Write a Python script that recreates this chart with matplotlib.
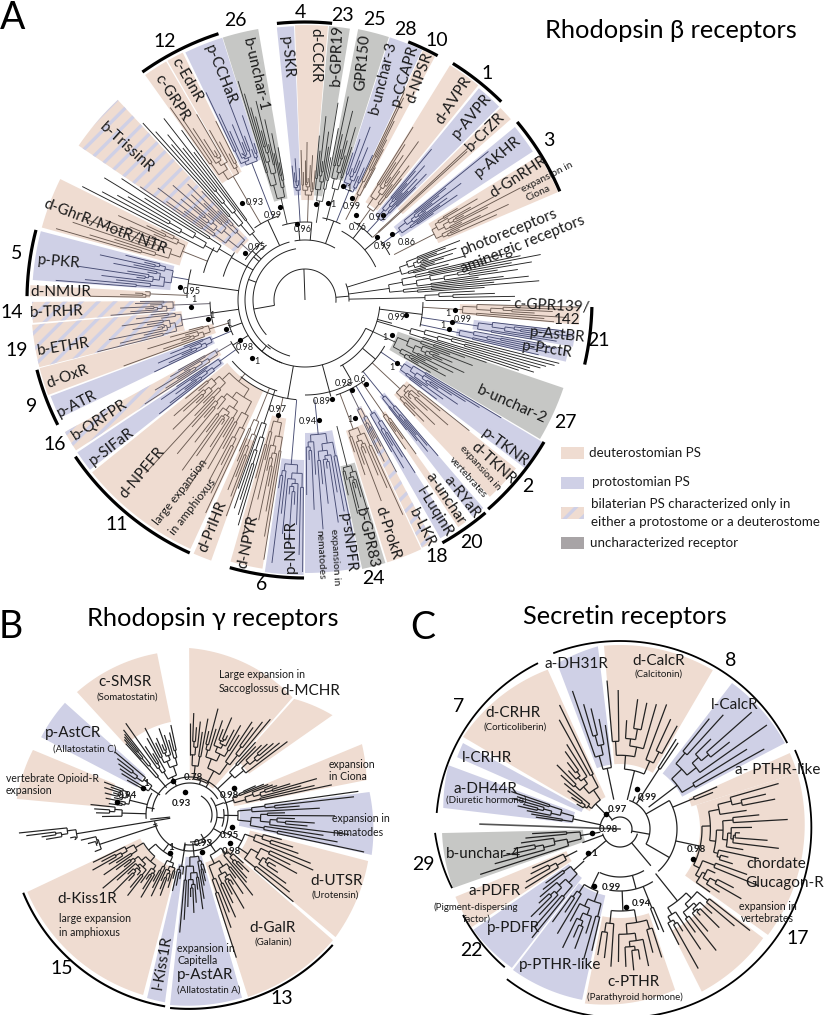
"""Three circular receptor trees with coloured clade sectors (panels A, B, C)."""

import numpy as np
import matplotlib
matplotlib.use("Agg")
import matplotlib.pyplot as plt
from matplotlib.collections import LineCollection
from matplotlib.patches import Polygon

plt.rcParams["font.family"] = ["Lato", "Open Sans", "DejaVu Sans"]
plt.rcParams["hatch.linewidth"] = 2.4

COLORS = {"d": "#efdcd1", "p": "#cfd0e6", "u": "#c6c7c5", "b": "#efdcd1"}
TREE_COLORS = {"d": "#6b5b52", "p": "#464b72", "u": "#343635", "b": "#5f5a66", "k": "#222222"}

# Panel A: sector name, start and end angle, kind, outer and inner radius
A_SECTORS = [
    ("p-SKR", 95.9, 92.3, "p", 274, 105), ("d-CCKR", 92.1, 85.2, "d", 275, 100),
    ("b-GPR19", 85.0, 80.6, "u", 275, 105), ("GPR150", 78.9, 72.3, "u", 276, 125),
    ("p-CCAPR", 72.1, 64.9, "p", 276, 120), ("d-NPSR", 64.7, 61.9, "d", 276, 110),
    ("d-AVPR", 58.3, 51.1, "d", 276, 115), ("p-AVPR", 50.6, 44.9, "p", 274, 110),
    ("b-CrZR", 44.5, 41.3, "d", 274, 130), ("p-AKHR", 39.5, 33.1, "p", 272, 115),
    ("d-GnRHR", 31.7, 23.1, "d", 275, 145), ("c-GPR139", -1.5, -5.2, "d", 275, 155),
    ("p-AstBR", -6.7, -9.9, "p", 272, 170), ("p-PrctR", -10.6, -13.3, "p", 268, 155),
    ("b-unchar-2", -18.8, -30.6, "u", 273, 98), ("p-TKNR", -30.9, -37.4, "p", 278, 118),
    ("d-TKNR", -38.6, -46.8, "d", 270, 130), ("a-RYaR", -49.4, -52.3, "p", 274, 122),
    ("a-unchar", -54.2, -56.0, "d", 274, 137), ("l-LuqinR", -57.4, -60.4, "p", 274, 130),
    ("b-LKR", -62.1, -64.7, "b", 274, 120), ("d-ProkR", -65.0, -72.6, "d", 275, 137),
    ("b-GPR83", -73.0, -78.0, "u", 275, 170), ("p-sNPFR", -78.2, -90.0, "p", 273, 133),
    ("p-NPFR", -90.3, -98.4, "p", 275, 160), ("d-NPYR", -99.0, -105.9, "d", 272, 120),
    ("d-PrlHR", -109.8, -113.7, "d", 277, 150), ("d-NPFFR", -114.7, -141.0, "d", 274, 100),
    ("p-SIFaR", -141.7, -146.2, "p", 274, 103), ("b-QRFPR", -146.7, -151.2, "b", 274, 100),
    ("p-ATR", -154.3, -159.3, "p", 272, 100), ("d-OxR", -159.7, -165.6, "d", 274, 95),
    ("b-ETHR", -165.8, -174.8, "b", 274, 124), ("b-TRHR", -175.2, -179.6, "b", 273, 130),
    ("d-NMUR", 179.2, 176.9, "d", 275, 155), ("p-PKR", 175.8, 165.4, "p", 273, 135),
    ("d-GhrR", 164.6, 153.7, "d", 273, 130), ("b-TrissinR", 145.7, 133.1, "b", 274, 82),
    ("c-GRPR", 125.4, 120.2, "d", 276, 143), ("c-EdnR", 119.9, 116.3, "d", 276, 143),
    ("p-CCHaR", 115.8, 107.5, "p", 275, 147), ("b-unchar-1", 107.4, 99.8, "u", 275, 103),
]

# Panel A tree: start, end, base radius, stem radius, kind, tip radii
A_CLADES = [
    (95.5, 92.5, 110, 78, "p", [135, 128, 142, 120, 132]),
    (91.5, 85.5, 105, 78, "d", [150, 128, 140, 158, 122, 135, 145, 118, 130]),
    (85, 79, 100, 78, "u", [165, 150, 185, 140, 170, 155, 200, 145, 175]),
    (78, 73, 115, 82, "u", [208, 170, 155, 195, 165, 150, 180, 160]),
    (72, 65, 118, 84, "p", [155, 170, 140, 185, 150, 165, 135, 145, 160]),
    (64.5, 62, 118, 90, "d", [230, 225, 200, 180, 170, 150]),
    (58, 51.5, 112, 92, "d", [204, 185, 165, 175, 150, 195, 160, 145, 170, 155]),
    (50, 45.5, 110, 92, "p", [197, 170, 155, 180, 145, 165, 150, 175, 158]),
    (43, 42.5, 100, 92, "d", [223, 220]),
    (39, 34, 118, 96, "p", [236, 180, 170, 160, 195, 150, 175, 165, 185, 155]),
    (31, 24, 145, 100, "d", [178, 200, 165, 190, 215, 180, 243, 205, 175, 195, 225, 170, 210]),
    (21, 14, 100, 44, "k", [166, 150, 140, 160, 130, 155, 145, 135, 165, 125, 148]),
    (13, 4, 85, 44, "k", [205, 185, 220, 240, 210, 230, 195, 215, 175, 200, 225, 190, 235, 180]),
    (3, 0, 120, 44, "k", [170, 190, 210, 205]),
    (-1.5, -5, 158, 118, "d", [275, 255, 248, 230, 262, 240, 250]),
    (-6.8, -9.8, 175, 118, "p", [260, 245, 268, 235, 250, 255, 240]),
    (-10.5, -13.2, 158, 118, "p", [245, 255, 235, 250, 228, 240]),
    (-14, -18.2, 110, 75, "k", [262, 258, 250, 245, 235, 240, 225]),
    (-19, -30, 100, 75, "u", [192, 170, 155, 180, 145, 160, 150, 175, 140, 165, 135, 150, 160, 130, 145]),
    (-31, -37, 118, 92, "p", [229, 205, 190, 175, 160, 185, 150, 170, 145, 165]),
    (-38.5, -46.5, 130, 92, "d", [210, 175, 150, 190, 165, 145, 180, 155, 170, 160]),
    (-49.5, -52, 125, 92, "p", [205, 190, 175, 195, 180, 165]),
    (-54.2, -56, 140, 100, "d", [190, 170, 160, 180]),
    (-57.5, -60.3, 132, 100, "p", [205, 185, 170, 195, 175]),
    (-62, -64.5, 122, 100, "b", [195, 165, 155, 180, 170]),
    (-65.5, -72, 138, 100, "d", [236, 205, 190, 165, 215, 175, 185, 160]),
    (-73.5, -77.5, 172, 130, "u", [230, 205, 195, 215, 220, 185, 200]),
    (-78.5, -89.5, 135, 100, "p", [240, 215, 195, 225, 170, 205, 185, 230, 175, 210, 160, 195]),
    (-90.5, -98, 165, 100, "p", [272, 255, 225, 205, 245, 195, 235, 215, 265, 190]),
    (-99, -105.5, 125, 100, "d", [263, 240, 215, 190, 225, 175, 205, 165, 245, 185]),
    (-106.5, -109.5, 130, 95, "k", [235, 225, 210, 220, 200]),
    (-110, -113.5, 130, 95, "d", [230, 210, 190, 205, 175, 165]),
    (-115, -140.5, 105, 95, "d", [235, 215, 185, 205, 170, 195, 160, 225, 175, 150, 190, 210, 165, 180,
                                  140, 200, 155, 170, 235, 160, 145, 185, 150, 165, 175, 140, 155]),
    (-142, -146, 105, 85, "p", [185, 170, 150, 160, 140, 175, 155]),
    (-147, -151, 103, 85, "b", [191, 165, 150, 175, 140, 155, 145]),
    (-154.5, -159, 102, 80, "p", [167, 150, 135, 160, 125, 145, 130]),
    (-160, -165.5, 100, 80, "d", [193, 150, 130, 165, 125, 140, 120]),
    (-166, -174.5, 125, 95, "b", [214, 190, 165, 200, 150, 175, 160, 185, 145, 170, 155]),
    (-175.5, -179.5, 132, 95, "b", [195, 175, 160, 185, 155, 170, 165]),
    (179, 177, 155, 118, "d", [215, 185, 170, 160]),
    (175.5, 166, 135, 118, "p", [250, 221, 190, 205, 170, 230, 180, 160, 195, 175, 210, 165, 185]),
    (164, 154, 132, 105, "d", [259, 225, 200, 245, 180, 235, 170, 215, 190, 165, 205, 175, 160]),
    (153, 146.5, 100, 85, "k", [250, 230, 215, 205, 235, 190, 220]),
    (145.5, 133.5, 85, 72, "b", [200, 170, 150, 185, 135, 160, 145, 175, 130, 155, 140, 165, 125, 150]),
    (132.5, 126, 85, 72, "k", [240, 225, 205, 215, 195, 230, 185, 210]),
    (125, 116.5, 143, 88, "d", [235, 220, 205, 190, 175, 215, 195, 180, 165, 200]),
    (115.5, 108, 147, 88, "p", [230, 205, 185, 160, 190, 170, 215, 175, 160, 195, 165]),
    (107, 100, 105, 78, "u", [229, 215, 200, 190, 175, 205, 160, 185, 150, 170, 140, 155]),
]

# Panel A inner tree: arcs as radius, start, end
A_ARCS = [
    (31, -5, 190), (52, 100, 222), (60, 105, 235), (67, 125, 250), (67, -145, -25),
    (58, -130, -105), (60, 60, 100), (78, 25, 62), (44, -2, 22), (75, -62, -5),
    (95, -90, -60), (100, -130, -95), (118, -13, -1), (92, -52, -30), (100, -72, -54),
    (78, 85, 107), (88, 108, 125), (72, 126, 146), (85, 146, 164), (105, 150, 165),
    (118, 165, 179), (95, -179, -165), (80, -165, -154), (85, -151, -141), (95, -140, -107),
    (84, 65, 78), (92, 43, 58), (96, 28, 38),
]
A_SPOKES = [
    (92, 0, 31), (190, 31, 52), (160, 52, 60), (140, 60, 67), (-130, 60, 67), (-25, 67, 75),
    (5, 31, 44), (85, 60, 78), (40, 78, 96), (52, 78, 92), (70, 60, 84), (-100, 67, 100),
    (-75, 67, 100), (-60, 75, 92), (-40, 75, 92), (-7, 75, 118), (-15, 75, 90), (150, 60, 85),
    (172, 67, 118), (-172, 67, 95), (-160, 67, 80), (-148, 67, 85), (115, 60, 88), (137, 60, 72),
    (95, 60, 78),
]
A_ARC_BARS = [
    (125.5, 108, 280), (95.8, 84.4, 278), (68.2, 61.5, 278), (58, 45.3, 279), (40, 23.1, 277),
    (-1.4, -13, 287), (-30.7, -48.8, 278), (-49.7, -60.5, 279), (-105.7, -90.2, 278),
    (-145.7, -114.5, 278), (-165.4, -153.2, 277), (179.2, 165.4, 278),
]
A_NUMBERS = [
    ("26", 235, 20), ("12", 165, 41), ("4", 300, 12), ("23", 342, 15), ("25", 374, 19), ("28", 405, 29),
    ("10", 437, 40), ("1", 487, 73), ("3", 549, 140), ("21", 598, 340), ("27", 565, 423), ("2", 528, 487),
    ("20", 471, 542), ("18", 437, 557), ("24", 373, 579), ("6", 262, 585), ("11", 117, 525),
    ("16", 55, 445), ("9", 32, 407), ("19", 17, 351), ("14", 12, 312), ("5", 17, 253),
]
A_LABELS = [
    ("b-TrissinR", 127, 148, -42), ("d-GhrR/MotR/NTR", 105, 227, -21), ("p-PKR", 59, 262, -5),
    ("d-NMUR", 61, 292, 0), ("b-TRHR", 57, 312, 2), ("b-ETHR", 63, 347, 9), ("d-OxR", 68, 377, 20),
    ("p-ATR", 77, 404, 27), ("b-QRFPR", 100, 420, 33), ("p-SIFaR", 112, 447, 37), ("d-NPFFR", 142, 473, 50),
    ("d-PrlHR", 213, 527, 68), ("d-NPYR", 248, 542, 78), ("p-NPFR", 291, 546, 90), ("p-sNPFR", 347, 543, -83),
    ("b-GPR83", 367, 538, -77), ("d-ProkR", 388, 533, -72), ("b-LKR", 422, 528, -63), ("l-LuqinR", 435, 512, -58),
    ("a-unchar", 445, 498, -56), ("a-RYaR", 462, 497, -52), ("d-TKNR", 493, 463, -42), ("p-TKNR", 505, 447, -36),
    ("b-unchar-2", 512, 405, -24), ("p-PrctR", 547, 350, -8), ("p-AstBR", 557, 335, -6),
    ("c-GPR139/", 552, 306, -3), ("142", 567, 320, 0), ("d-GnRHR", 518, 177, 33), ("p-AKHR", 498, 157, 40),
    ("b-CrZR", 485, 132, 45), ("p-AVPR", 472, 116, 50), ("d-AVPR", 454, 100, 57), ("d-NPSR", 420, 78, 70),
    ("p-CCAPR", 405, 75, 73), ("b-unchar-3", 383, 78, 76), ("GPR150", 363, 63, 85), ("b-GPR19", 337, 55, 88),
    ("d-CCKR", 315, 55, -90), ("p-SKR", 287, 57, -85), ("b-unchar-1", 255, 75, -77), ("p-CCHaR", 220, 75, -68),
    ("c-EdnR", 187, 80, -60), ("c-GRPR", 172, 98, -57),
    ("photoreceptors", 509, 232, 22), ("aminergic receptors", 523, 245, 22),
]
A_NOTES = [
    ("large expansion", 180, 492, 52, 8.4), ("in amphioxus", 193, 507, 52, 8.4), ("expansion in", 335, 557, -87, 7.4),
    ("nematodes", 320, 555, -87, 7.4), ("expansion in", 480, 468, -48, 7.4), ("vertebrates", 468, 477, -48, 7.4),
    ("expansion in", 547, 177, 27, 7.4), ("Ciona", 538, 193, 25, 7.4),
]
A_SUPPORT = [
    ("0.93", 255, 202), ("0.99", 273, 215), ("0.95", 257, 247), ("0.96", 303, 229), ("1", 333, 204),
    ("1", 349, 188), ("0.99", 352, 206), ("0.76", 358, 227), ("0.91", 378, 217), ("0.99", 383, 246),
    ("0.86", 407, 242), ("0.95", 192, 292), ("1", 194, 300), ("1", 212, 316), ("1", 229, 323),
    ("0.98", 245, 347), ("1", 257, 361), ("0.97", 278, 409), ("0.94", 308, 422), ("0.89", 322, 402),
    ("0.98", 344, 384), ("0.6", 360, 379), ("1", 350, 420), ("1", 392, 367), ("1", 385, 338),
    ("0.99", 397, 317), ("1", 448, 314), ("0.99", 463, 319), ("1", 443, 326),
]
A_DOTS_X = [242, 280, 245, 297, 316, 328, 343, 352, 356, 383, 377, 392, 180, 191, 208, 226, 240, 252,
            278, 319, 332, 352, 366, 355, 397, 392, 406, 455, 452, 449]
A_DOTS_Y = [203, 207, 253, 224, 204, 203, 186, 198, 215, 215, 237, 234, 287, 307, 319, 329, 340, 358,
            415, 420, 399, 390, 384, 418, 363, 335, 315, 310, 322, 329]

# Panel B
B_SECTORS = [
    ("Opioid", 157.5, 174.7, "d", 170, 174, 81), ("p-AstCR", 138.1, 152.4, "p", 168, 168, 60),
    ("c-SMSR", 132.6, 101.5, "d", 167, 165, 95), ("d-MCHR", 90.3, 48.9, "d", 167, 156, 35),
    ("d-MCHR2", 48.1, 35, "d", 156, 174, 72), ("Ciona", 22.4, 11.2, "d", 186, 180, 45),
    ("nematodes", 7.3, -12.4, "p", 181, 186, 50), ("d-UTSR", -14.5, -40, "d", 184, 190, 62),
    ("d-GalR", -41.2, -72.3, "d", 190, 191, 50), ("p-AstAR", -74.1, -96, "p", 190, 191, 42),
    ("l-Kiss1R", -97.6, -103.2, "p", 189, 188, 50), ("d-Kiss1R", -104.6, -154.7, "d", 186, 180, 55),
]
B_CLADES = [
    (159, 172, 62, 44, "k", [92, 84, 90, 80, 88, 78, 86, 76, 82]),
    (174, 181, 68, 44, "k", [100, 96, 94, 88]),
    (186, 192, 115, 20, "k", [172, 165, 150, 146, 122, 118]),
    (193, 201, 95, 34, "k", [112, 106, 98, 102]),
    (140, 151, 48, 36, "k", [98, 92, 88, 84, 80, 72]),
    (128, 132, 50, 36, "k", [108, 104, 102, 100, 96]),
    (102, 125, 42, 32, "k", [92, 85, 78, 84, 92, 76, 84, 80, 98, 88, 72, 82, 112]),
    (50, 90, 36, 32, "k", [125, 118, 108, 112, 94, 103, 96, 88, 106, 92, 100, 90, 110, 86, 98, 84, 94, 88, 102, 92]),
    (37, 48, 58, 38, "k", [122, 115, 110, 105, 100, 95, 98]),
    (12, 24, 46, 36, "k", [145, 128, 115, 132, 105, 92, 88, 84, 80, 72]),
    (-12, 8, 48, 34, "k", [178, 150, 135, 160, 118, 125, 105, 145, 95, 130, 110, 165, 170]),
    (-40, -15, 58, 36, "k", [135, 126, 118, 105, 100, 122, 112, 135, 130, 115, 108, 95]),
    (-72, -42, 45, 30, "k", [150, 120, 105, 112, 98, 90, 108, 82, 95, 78, 102, 88, 85, 76, 82, 72]),
    (-95, -75, 42, 28, "k", [118, 105, 92, 82, 98, 88, 75, 95, 85, 72, 68, 60]),
    (-103, -97, 52, 30, "k", [78, 72, 65, 60]),
    (-154, -105, 45, 36, "k", [108, 100, 112, 95, 88, 105, 92, 84, 114, 98, 86, 110, 90, 80, 94, 102, 84, 78, 88, 96, 76,
                               82, 90, 72, 80, 86, 70, 76, 66]),
]
B_ARCS = [
    (38, -30, 175), (32, 30, 140), (36, -170, -30), (27, -90, 40), (22, -20, 60), (44, 150, 185),
    (30, -100, -60), (34, -20, 10),
]
B_SPOKES = [(186, 20, 40), (170, 36, 44), (-100, 28, 36), (60, 32, 38), (20, 27, 36), (-5, 27, 34),
            (-30, 27, 36), (-60, 22, 30), (195, 34, 38)]
B_ARC_BARS = [(-155, -97.4, 184, 193), (-95.9, -42.3, 194, 193)]
B_NUMBERS = [("15", 62, 969), ("13", 282, 999)]
B_LABELS = [
    ("c-SMSR", 125, 682, 0), ("p-AstCR", 73, 733, 0), ("d-MCHR", 310, 691, 0), ("d-UTSR", 337, 881, 0),
    ("d-GalR", 273, 928, 0), ("d-Kiss1R", 87, 899, 0), ("l-Kiss1R", 163, 962, 80), ("p-AstAR", 205, 975, 0),
]
B_NOTES = [
    ("(Somatostatin)", 127, 697, "center"), ("(Allatostatin C)", 85, 749, "center"),
    ("vertebrate Opioid-R", 6, 778, "left"), ("expansion", 6, 791, "left"),
    ("Large expansion in", 219, 674, "left"), ("Saccoglossus", 219, 688, "left"),
    ("expansion", 329, 764, "left"), ("in Ciona", 329, 777, "left"),
    ("expansion in", 332, 819, "left"), ("nematodes", 332, 832, "left"),
    ("(Urotensin)", 335, 895, "center"), ("(Galanin)", 273, 942, "center"),
    ("large expansion", 59, 919, "left"), ("in amphioxus", 59, 932, "left"),
    ("expansion in", 177, 948, "left"), ("Capitella", 177, 960, "left"),
    ("(Allatostatin A)", 209, 990, "center"),
]
B_SUPPORT = [
    ("0.78", 193, 778), ("0.93", 181, 803), ("0.98", 229, 796), ("0.94", 127, 796), ("1", 146, 783),
    ("0.95", 229, 835), ("0.98", 231, 851), ("0.93", 203, 843), ("1", 171, 847),
]
B_DOTS_X = [173, 185, 234, 117, 143, 232, 230, 202, 170]
B_DOTS_Y = [781, 792, 788, 802, 788, 827, 843, 852, 853]

# Panel C
C_SECTORS = [
    ("a-DH31R", 110.8, 96.9, "p", 177, 184, 65), ("d-CalcR", 95, 59.7, "d", 184, 184, 65),
    ("l-CalcR", 52.5, 27.5, "p", 184, 186, 70), ("a-PTHR", 24.1, 17.5, "d", 186, 186, 75),
    ("chordate", 17.5, -35.6, "d", 186, 182, 80), ("17b", -37.3, -63.3, "d", 180, 182, 114),
    ("c-PTHR", -71.1, -101.4, "d", 170, 178, 89), ("p-PTHR-like", -102.5, -127.2, "p", 175, 177, 68),
    ("p-PDFR", -127.9, -145.5, "p", 176, 178, 62), ("a-PDFR", -146.5, -157.6, "d", 178, 178, 58),
    ("b-unchar-4", -160.5, -178.7, "u", 177, 178, 37), ("a-DH44R", 159.6, 173.2, "p", 183, 178, 48),
    ("l-CRHR", 151.3, 156.2, "p", 179, 178, 42), ("d-CRHR", 149.6, 114.4, "d", 182, 175, 35),
]
C_CLADES = [
    (109, 98, 62, 30, "k", [146, 130, 124, 112, 105]),
    (95, 61, 60, 30, "k", [149, 139, 109, 131, 129, 130, 133, 121, 118]),
    (58, 56, 72, 30, "k", [106, 104]),
    (51, 29, 72, 36, "k", [142, 154, 128, 176, 140, 180, 150, 165]),
    (23.5, 21.5, 80, 57, "k", [106, 100]),
    (16, -35, 82, 57, "k", [165, 150, 158, 128, 140, 168, 132, 120, 148, 160, 125, 142, 112, 118, 135, 150, 105, 128, 140, 118, 110]),
    (-38, -63, 92, 57, "k", [165, 150, 125, 140, 118, 135, 155, 128, 145, 120, 160, 130]),
    (-67, -69, 85, 62, "k", [112, 108]),
    (-72, -100, 82, 62, "k", [135, 128, 140, 132, 142, 138, 133, 138, 130, 128]),
    (-103, -126, 66, 48, "k", [125, 135, 110, 128, 118, 132, 105, 122, 100, 115]),
    (-129, -144, 62, 48, "k", [140, 130, 118, 125, 110, 105, 98, 92]),
    (-148, -156, 62, 48, "k", [112, 108, 100, 96]),
    (-162, -177, 40, 20, "k", [147, 130, 120, 108, 100, 95, 88]),
    (161, 172, 48, 20, "k", [115, 108, 112, 100, 105, 95, 90, 85]),
    (116, 150, 35, 20, "k", [138, 125, 100, 95, 85, 78, 90, 80, 72, 65, 58, 50]),
]
C_ROOT_ANGLE = 178
C_ROOT_RADII = [0, 140]
C_ARCS = [
    (12, -20, 135), (30, -30, 72), (57, -48, 30), (18, -165, -15), (48, -115, -60), (62, -100, -58),
    (20, 120, 175), (36, 50, 60),
]
C_SPOKES = [(-30, 30, 57), (-50, 18, 48), (-75, 48, 62), (-160, 18, 40), (-140, 18, 48), (130, 12, 20),
            (65, 30, 36), (-10, 12, 30), (30, 30, 57)]
C_ARC_BARS = [
    (110.8, 27.2, 188, 188), (116.3, 175, 185, 184), (24.3, -127, 192, 188), (-151.3, -129.8, 179, 180),
    (-178.8, -160.6, 185, 178),
]
C_NUMBERS = [("8", 731, 660), ("7", 459, 707), ("29", 423, 865), ("22", 471, 950), ("17", 798, 938)]
C_LABELS = [
    ("a-DH31R", 576, 664, 0), ("d-CalcR", 659, 661, 0), ("l-CalcR", 735, 705, 0), ("a- PTHR-like", 778, 770, 0),
    ("d-CRHR", 513, 713, 0), ("l-CRHR", 487, 758, 0), ("a-DH44R", 485, 789, 0), ("b-unchar-4", 483, 854, 0),
    ("a-PDFR", 495, 891, 0), ("p-PDFR", 513, 928, 0), ("p-PTHR-like", 560, 965, 0), ("c-PTHR", 633, 982, 0),
    ("chordate", 776, 864, 0), ("Glucagon-R", 785, 883, 0),
]
C_NOTES = [
    ("(Calcitonin)", 659, 674, "center"), ("(Corticoliberin)", 515, 727, "center"),
    ("(Diuretic hormone)", 486, 800, "center"), ("(Pigment-dispersing", 476, 907, "center"),
    ("factor)", 477, 919, "center"), ("(Parathyroid hormone)", 635, 997, "center"),
    ("expansion in", 768, 906, "center"), ("vertebrates", 767, 918, "center"),
]
C_SUPPORT = [
    ("0.97", 617, 809), ("0.99", 647, 797), ("0.98", 608, 829), ("1", 594, 853), ("0.99", 611, 888),
    ("0.94", 641, 903), ("0.98", 696, 849),
]
C_DOTS_X = [606, 637, 592, 588, 594, 626, 693]
C_DOTS_Y = [814, 789, 833, 853, 886, 907, 859]

LEGEND_KINDS = ["d", "p", "b", "g"]
LEGEND_LINES = [
    ("deuterostomian PS", 589, 453), ("protostomian PS", 592, 482), ("bilaterian PS characterized only in", 591, 504),
    ("either a protostome or a deuterostome", 591, 522), ("uncharacterized receptor", 590, 543),
]

A_CENTER = (305, 300)
B_CENTER = (190, 815)
C_CENTER = (620, 829)


def polar(center, r, angle):
    a = np.radians(angle)
    return center[0] + r * np.cos(a), center[1] - r * np.sin(a)


def arc_points(center, a0, a1, r0, r1=None):
    r1 = r0 if r1 is None else r1
    n = max(2, int(abs(a1 - a0) / 1.5) + 2)
    aa = np.linspace(a0, a1, n)
    rr = np.linspace(r0, r1, n)
    return np.column_stack(polar(center, rr, aa))


def draw_sector(ax, center, a0, a1, r0, r1, r_in, kind):
    outer = arc_points(center, a0, a1, r0, r1)
    inner = arc_points(center, a1, a0, r_in)
    pts = np.vstack([outer, inner])
    if kind == "b":
        ax.add_patch(Polygon(pts, closed=True, facecolor=COLORS["d"], edgecolor=COLORS["p"],
                             hatch="//", linewidth=0, zorder=1))
    else:
        ax.add_patch(Polygon(pts, closed=True, facecolor=COLORS[kind], edgecolor="none", zorder=1))


def arc_radial(center, angle, r0, r1):
    return np.array([polar(center, r0, angle), polar(center, r1, angle)])


def grow(center, tips, angles, r, segs, depth=0):
    """Add one cladogram node to segs and return its angle."""
    if len(tips) == 1:
        segs.append(arc_radial(center, angles[0], r, tips[0]))
        return angles[0]
    k = len(tips) // 3 if depth % 2 and len(tips) > 2 else len(tips) - len(tips) // 3
    k = min(max(k, 1), len(tips) - 1)
    mids = []
    for part, ang in ((tips[:k], angles[:k]), (tips[k:], angles[k:])):
        if len(part) == 1:
            child_r = r
        else:
            child_r = r + min(0.28 * (min(part) - r), 14)
            child_r = max(child_r, r + 1.5)
        mid = grow(center, part, ang, child_r, segs, depth + 1)
        if child_r > r:
            segs.append(arc_radial(center, mid, r, child_r))
        mids.append(mid)
    segs.append(arc_points(center, mids[0], mids[1], r))
    return 0.5 * (mids[0] + mids[1])


def draw_clades(ax, center, clades, lw):
    for a0, a1, base, stem, kind, tips in clades:
        segs = []
        angles = np.linspace(a0, a1, len(tips))
        mid = grow(center, tips, angles, base, segs)
        segs.append(arc_radial(center, mid, stem, base))
        ax.add_collection(LineCollection(segs, colors=TREE_COLORS[kind], linewidths=lw, zorder=2))


def draw_backbone(ax, center, arcs, spokes, lw):
    segs = [arc_points(center, a0, a1, r) for r, a0, a1 in arcs]
    segs += [arc_radial(center, a, r0, r1) for a, r0, r1 in spokes]
    ax.add_collection(LineCollection(segs, colors="#222222", linewidths=lw, zorder=2))


fig = plt.figure(figsize=(8.25, 10.15), dpi=100)
ax = fig.add_axes([0, 0, 1, 1])
ax.set_xlim(0, 825)
ax.set_ylim(1015, 0)
ax.axis("off")

# sectors
for name, a0, a1, kind, r, r_in in A_SECTORS:
    draw_sector(ax, A_CENTER, a0, a1, r, r, r_in, kind)
for name, a0, a1, kind, r0, r1, r_in in B_SECTORS:
    draw_sector(ax, B_CENTER, a0, a1, r0, r1, r_in, kind)
for name, a0, a1, kind, r0, r1, r_in in C_SECTORS:
    draw_sector(ax, C_CENTER, a0, a1, r0, r1, r_in, kind)

# trees
draw_clades(ax, A_CENTER, A_CLADES, 0.65)
draw_backbone(ax, A_CENTER, A_ARCS, A_SPOKES, 0.7)
draw_clades(ax, B_CENTER, B_CLADES, 0.85)
draw_backbone(ax, B_CENTER, B_ARCS, B_SPOKES, 0.85)
draw_clades(ax, C_CENTER, C_CLADES, 0.9)
draw_backbone(ax, C_CENTER, C_ARCS, C_SPOKES, 0.9)
ax.plot(*zip(polar(C_CENTER, C_ROOT_RADII[0], C_ROOT_ANGLE), polar(C_CENTER, C_ROOT_RADII[1], C_ROOT_ANGLE)),
        color="#555555", lw=1.2, zorder=2)

# clade bars
for a0, a1, r in A_ARC_BARS:
    pts = arc_points(A_CENTER, a0, a1, r)
    ax.plot(pts[:, 0], pts[:, 1], color="black", lw=2.3, solid_capstyle="butt", zorder=3)
for a0, a1, r0, r1 in B_ARC_BARS:
    pts = arc_points(B_CENTER, a0, a1, r0, r1)
    ax.plot(pts[:, 0], pts[:, 1], color="black", lw=1.5, solid_capstyle="butt", zorder=3)
for a0, a1, r0, r1 in C_ARC_BARS:
    pts = arc_points(C_CENTER, a0, a1, r0, r1)
    ax.plot(pts[:, 0], pts[:, 1], color="black", lw=1.3, solid_capstyle="butt", zorder=3)

# support dots
for xs, ys, size in ((A_DOTS_X, A_DOTS_Y, 14), (B_DOTS_X, B_DOTS_Y, 16), (C_DOTS_X, C_DOTS_Y, 16)):
    ax.scatter(xs, ys, s=size, color="black", linewidths=0, zorder=4)

# texts
for text, x, y, rot in A_LABELS + B_LABELS + C_LABELS:
    ax.text(x, y, text, fontsize=11, rotation=rot, rotation_mode="anchor", ha="center", va="center",
            color="#1a1a1a", zorder=5)
for text, x, y, rot, size in A_NOTES:
    ax.text(x, y, text, fontsize=size, rotation=rot, rotation_mode="anchor", ha="center", va="center",
            color="#1a1a1a", zorder=5)
for text, x, y, ha in B_NOTES + C_NOTES:
    size = 7.0 if text.startswith("(") or text == "factor)" else 7.6
    ax.text(x, y, text, fontsize=size, ha=ha, va="center", color="#1a1a1a", zorder=5)
for text, x, y in A_NUMBERS + B_NUMBERS + C_NUMBERS:
    ax.text(x, y, text, fontsize=14, ha="center", va="center", color="black", zorder=5)
for text, x, y in A_SUPPORT:
    ax.text(x, y, text, fontsize=6.6, ha="center", va="center", color="#1a1a1a", zorder=5)
for text, x, y in B_SUPPORT + C_SUPPORT:
    ax.text(x, y, text, fontsize=7, fontweight="bold", ha="center", va="center", color="#1a1a1a", zorder=5)

ax.text(671, 30, "Rhodopsin β receptors", fontsize=18.3, ha="center", va="center")
ax.text(213, 619, "Rhodopsin γ receptors", fontsize=18.3, ha="center", va="center")
ax.text(625, 617, "Secretin receptors", fontsize=18.3, ha="center", va="center")
ax.text(13, 18, "A", fontsize=27, ha="center", va="center")
ax.text(11, 627, "B", fontsize=27, ha="center", va="center")
ax.text(423, 628, "C", fontsize=27, ha="center", va="center")

# legend
for kind, y in zip(LEGEND_KINDS, [453, 483, 513, 543]):
    x0, x1 = 561, 584
    pts = [(x0, y - 6), (x1, y - 6), (x1, y + 6), (x0, y + 6)]
    if kind == "b":
        ax.add_patch(Polygon(pts, facecolor=COLORS["d"], edgecolor=COLORS["p"], hatch="//", linewidth=0, zorder=1))
    elif kind == "g":
        ax.add_patch(Polygon(pts, facecolor="#a8a4a6", edgecolor="none", zorder=1))
    else:
        ax.add_patch(Polygon(pts, facecolor=COLORS[kind], edgecolor="none", zorder=1))
for text, x, y in LEGEND_LINES:
    ax.text(x, y, text, fontsize=9.6, ha="left", va="center", color="#1a1a1a")

fig.savefig("out.png", dpi=100)
plt.close(fig)
